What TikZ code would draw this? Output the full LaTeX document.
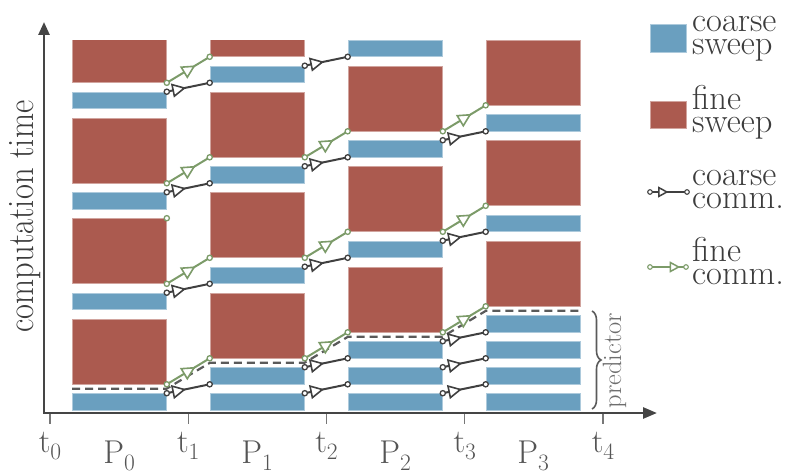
\documentclass[tikz,border=0pt]{standalone}
\usetikzlibrary{arrows.meta,decorations.markings,decorations.pathreplacing}
\definecolor{cblue}{HTML}{6A9FBF}
\definecolor{cred}{HTML}{AB5A4F}
\definecolor{cgreen}{HTML}{7C9B69}
\definecolor{cdark}{HTML}{404040}
\definecolor{axisc}{HTML}{454545}
\definecolor{dashc}{HTML}{5A5A5A}
\definecolor{txtc}{HTML}{3C3C3C}
\definecolor{tickc}{HTML}{555555}
\definecolor{bracec}{HTML}{5A5A5A}
\newcommand\commc[2]{\draw[ccomm] (#1) -- (#2);
  \filldraw[cdotc] (#1) circle[radius=2.6pt] (#2) circle[radius=2.6pt];}
\newcommand\commf[2]{\draw[fcomm] (#1) -- (#2);
  \filldraw[fdotc] (#1) circle[radius=2.6pt] (#2) circle[radius=2.6pt];}
\newcommand\mysub[1]{\raisebox{-0.22em}{\fontsize{23.5}{24}\selectfont #1}}
\begin{document}
\begin{tikzpicture}[x=1pt,y=-1pt,
  cblk/.style={rectangle, inner sep=0pt, fill=cblue, draw=cblue!55!white, line width=0.6pt, minimum width=94.5pt, minimum height=16.5pt},
  fblk/.style={rectangle, inner sep=0pt, fill=cred, draw=cred!55!white, line width=0.6pt, minimum width=94.5pt, minimum height=65pt},
  ccomm/.style={draw=cdark, line width=2pt, postaction={decorate}, decoration={markings, mark=at position 0.45 with {\arrow[cdark]{Triangle[length=14pt,width=14pt,fill=white,line width=1.6pt]}}}},
  fcomm/.style={draw=cgreen, line width=2pt, postaction={decorate}, decoration={markings, mark=at position 0.67 with {\arrow[cgreen]{Triangle[length=14pt,width=14pt,fill=white,line width=1.6pt]}}}},
  lccomm/.style={draw=cdark, line width=2pt, postaction={decorate}, decoration={markings, mark=at position 0.5 with {\arrow[cdark]{Triangle[length=10.5pt,width=11pt,fill=white,line width=1.5pt]}}}},
  lfcomm/.style={draw=cgreen, line width=2pt, postaction={decorate}, decoration={markings, mark=at position 0.84 with {\arrow[cgreen]{Triangle[length=10.5pt,width=11pt,fill=white,line width=1.5pt]}}}},
  cdotc/.style={draw=cdark, fill=white, line width=1.3pt},
  fdotc/.style={draw=cgreen, fill=white, line width=1.3pt},
  axisline/.style={draw=axisc, line width=2.6pt},
  tickline/.style={draw=tickc!80!white, line width=1.3pt},
  tlbl/.style={font=\fontsize{33}{38}\selectfont, text=tickc, inner sep=0pt, anchor=base},
  lgd/.style={font=\fontsize{34.5}{23}\selectfont, text=txtc, align=left, inner sep=0pt, anchor=base west},
  ylbl/.style={font=\fontsize{32.5}{38}\selectfont, text=txtc, inner sep=0pt, anchor=base, rotate=90},
  plbl/.style={font=\fontsize{26.5}{30}\selectfont, text=tickc!85!white, inner sep=0pt, anchor=base, rotate=90}
]
\useasboundingbox (0,0) rectangle (788,476);

% blocks
\begin{scope}
\clip (60,40.5) rectangle (600,420);
% P0
\node[cblk] (c0-1) at (119.25,401.75) {};
\node[fblk] (f0-1) at (119.25,351.5) {};
\node[cblk] (c0-2) at (119.25,301.25) {};
\node[fblk] (f0-2) at (119.25,251) {};
\node[cblk] (c0-3) at (119.25,200.75) {};
\node[fblk] (f0-3) at (119.25,150.5) {};
\node[cblk] (c0-4) at (119.25,100.25) {};
\node[fblk] (f0-4) at (119.25,50) {};
% P1
\node[cblk] (c1-1) at (257.25,401.75) {};
\node[cblk] (c1-2) at (257.25,375.75) {};
\node[fblk] (f1-1) at (257.25,325.5) {};
\node[cblk] (c1-3) at (257.25,275.25) {};
\node[fblk] (f1-2) at (257.25,225) {};
\node[cblk] (c1-4) at (257.25,174.75) {};
\node[fblk] (f1-3) at (257.25,124.5) {};
\node[cblk] (c1-5) at (257.25,74.25) {};
\node[fblk] (f1-4) at (257.25,24) {};
% P2
\node[cblk] (c2-1) at (395.25,401.75) {};
\node[cblk] (c2-2) at (395.25,375.75) {};
\node[cblk] (c2-3) at (395.25,349.75) {};
\node[fblk] (f2-1) at (395.25,299.5) {};
\node[cblk] (c2-4) at (395.25,249.25) {};
\node[fblk] (f2-2) at (395.25,199) {};
\node[cblk] (c2-5) at (395.25,148.75) {};
\node[fblk] (f2-3) at (395.25,98.5) {};
\node[cblk] (c2-6) at (395.25,48.25) {};
% P3
\node[cblk] (c3-1) at (533.25,401.75) {};
\node[cblk] (c3-2) at (533.25,375.75) {};
\node[cblk] (c3-3) at (533.25,349.75) {};
\node[cblk] (c3-4) at (533.25,323.75) {};
\node[fblk] (f3-1) at (533.25,273.5) {};
\node[cblk] (c3-5) at (533.25,223.25) {};
\node[fblk] (f3-2) at (533.25,173) {};
\node[cblk] (c3-6) at (533.25,122.75) {};
\node[fblk] (f3-3) at (533.25,72.5) {};
\end{scope}

% axes
\draw[axisline, {Triangle[length=13pt,width=11pt]}-{Triangle[length=14pt,width=11pt]}] (44,22) -- (44,413) -- (657,413);
\foreach \x in {50,188.25,326.5,464.75,603} \draw[tickline] (\x,414) -- (\x,424);

% predictor boundary
\draw[draw=dashc, line width=2.2pt, dash pattern=on 8pt off 5pt]
  (72,388.75) -- (166.5,388.75) -- (210,362.75) -- (304.5,362.75) -- (348,336.75) -- (442.5,336.75) -- (486,310.75) -- (580.5,310.75);

% coarse communication
\commc{c0-1.north east}{c1-2.south west}
\commc{c0-2.north east}{c1-3.south west}
\commc{c0-3.north east}{c1-4.south west}
\commc{c0-4.north east}{c1-5.south west}
\commc{c1-1.north east}{c2-2.south west}
\commc{c1-2.north east}{c2-3.south west}
\commc{c1-3.north east}{c2-4.south west}
\commc{c1-4.north east}{c2-5.south west}
\commc{c1-5.north east}{c2-6.south west}
\commc{c2-1.north east}{c3-2.south west}
\commc{c2-2.north east}{c3-3.south west}
\commc{c2-3.north east}{c3-4.south west}
\commc{c2-4.north east}{c3-5.south west}
\commc{c2-5.north east}{c3-6.south west}

% fine communication
\commf{f0-1.south east}{f1-1.south west}
\commf{f0-2.south east}{f1-2.south west}
\commf{f0-3.south east}{f1-3.south west}
\commf{f0-4.south east}{f1-4.south west}
\commf{f1-1.south east}{f2-1.south west}
\commf{f1-2.south east}{f2-2.south west}
\commf{f1-3.south east}{f2-3.south west}
\commf{f2-1.south east}{f3-1.south west}
\commf{f2-2.south east}{f3-2.south west}
\commf{f2-3.south east}{f3-3.south west}
\filldraw[fdotc] (f0-2.north east) circle[radius=2.6pt];

% brace
\draw[draw=bracec, line width=1.6pt, decorate, decoration={brace, amplitude=9pt}] (592,311) -- (592,409);
\node[plbl] (pred) at (621,360.5) {predictor};

% labels
\node[ylbl] (ylab) at (33,216.5) {\scalebox{1}[1.15]{computation time}};
\node[tlbl] (t0) at (50,452) {t\mysub{0}};
\node[tlbl] (t1) at (188.25,452) {t\mysub{1}};
\node[tlbl] (t2) at (326.5,452) {t\mysub{2}};
\node[tlbl] (t3) at (464.75,452) {t\mysub{3}};
\node[tlbl] (t4) at (603,452) {t\mysub{4}};
\node[tlbl] (p0) at (119.25,463) {P\mysub{0}};
\node[tlbl] (p1) at (257.25,463) {P\mysub{1}};
\node[tlbl] (p2) at (395.25,463) {P\mysub{2}};
\node[tlbl] (p3) at (533.25,463) {P\mysub{3}};

% legend
\node[cblk, minimum width=36pt, minimum height=28pt] (lgc) at (668,38) {};
\node[fblk, minimum width=36pt, minimum height=27pt] (lgf) at (668,114.5) {};
\node[lgd] (lt1) at (692,55) {coarse\\sweep};
\node[lgd] (lt2) at (692,133) {fine\\sweep};
\node[lgd] (lt3) at (692,208) {coarse\\comm.};
\node[lgd] (lt4) at (692,284) {fine\\comm.};
\coordinate (lc1) at (650,192);
\coordinate (lc2) at (687,192);
\coordinate (lf1) at (650,267);
\coordinate (lf2) at (686,267);
\draw[lccomm] (lc1) -- (lc2);
\filldraw[cdotc, line width=1.1pt] (lc1) circle[radius=2.3pt] (lc2) circle[radius=2.3pt];
\draw[lfcomm] (lf1) -- (lf2);
\filldraw[fdotc, line width=1.1pt] (lf1) circle[radius=2.3pt] (lf2) circle[radius=2.3pt];
\end{tikzpicture}
\end{document}
